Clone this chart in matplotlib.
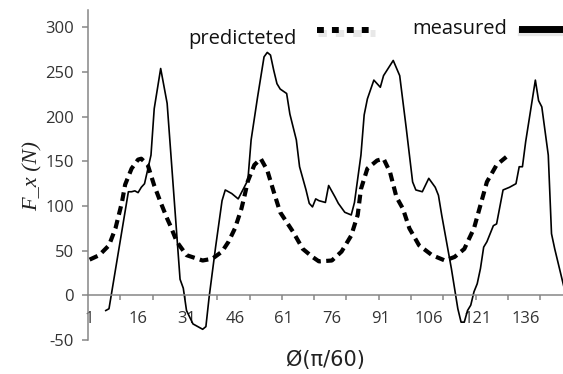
import matplotlib
matplotlib.use("Agg")
import matplotlib.pyplot as plt
from matplotlib.lines import Line2D

plt.rcParams["axes.unicode_minus"] = False

# predicted (dashed) - category index, force value
pred_x = [1, 4, 7, 9, 11, 12, 14, 16, 17, 19, 21, 23, 25, 26, 28, 31, 36, 39, 42, 44,
          46, 48, 49, 50, 52, 54, 56, 58, 60, 64, 67, 70, 72, 76, 79, 82, 84, 85, 87, 90,
          92, 94, 96, 98, 100, 103, 107, 111, 114, 117, 120, 122, 124, 127, 130]
pred_y = [40, 45, 56, 75, 104, 124, 142, 152, 153, 146, 123, 104, 86, 78, 60, 45, 39, 41, 49, 60,
          75, 97, 112, 128, 146, 153, 140, 116, 93, 71, 52, 43, 38, 39, 49, 67, 90, 119, 142, 151,
          153, 138, 110, 97, 75, 56, 45, 39, 43, 52, 75, 101, 127, 146, 155]

# measured (solid)
meas_x = [6, 7, 13, 14, 15, 16, 17, 18, 20, 21, 23, 25, 29, 30, 31, 33, 36, 37, 38, 40,
          42, 43, 45, 47, 50, 51, 53, 55, 56, 57, 58, 59, 60, 62, 63, 65, 66, 68, 69, 70,
          71, 72, 74, 75, 77, 78, 80, 82, 83, 85, 86, 87, 89, 91, 92, 95, 97, 99, 101, 102,
          104, 106, 108, 109, 110, 113, 115, 116, 117, 118, 119, 120, 121, 122, 123, 124, 126, 127, 128, 129,
          131, 133, 134, 135, 136, 139, 140, 141, 143, 144, 145, 148]
meas_y = [-17, -15, 116, 116, 117, 115, 121, 125, 157, 209, 254, 215, 18, 8, -17, -32, -38, -35, -2, 54,
          106, 118, 114, 108, 129, 174, 222, 267, 272, 269, 252, 237, 231, 226, 203, 174, 144, 118, 103, 99,
          108, 106, 104, 123, 110, 103, 93, 90, 104, 157, 202, 220, 241, 233, 246, 263, 246, 188, 127, 118,
          116, 131, 121, 112, 90, 30, -15, -30, -30, -17, -11, 4, 13, 30, 54, 60, 78, 80, 99, 118,
          121, 125, 144, 144, 172, 241, 218, 211, 157, 69, 52, 7]

xtick_labels = [1, 16, 31, 46, 61, 76, 91, 106, 121, 136]
ytick_vals = [-50, 0, 50, 100, 150, 200, 250, 300]

W, H = 563, 374
fig = plt.figure(figsize=(W / 100, H / 100), dpi=100)
ax = fig.add_axes([88 / W, 34 / H, 484.5 / W, 330 / H])

axis_col = "#868686"
ax.plot(pred_x, pred_y, color="black", lw=3.0, dashes=(2.1, 1.3), dash_capstyle="butt")
ax.plot(meas_x, meas_y, color="black", lw=1.2)

ax.set_xlim(0.5, 150.5)
ax.set_ylim(-50, 319.5)

for s in ["top", "right"]:
    ax.spines[s].set_visible(False)
ax.spines["bottom"].set_position(("data", 0))
ax.spines["left"].set_color(axis_col)
ax.spines["bottom"].set_color(axis_col)
ax.spines["left"].set_linewidth(1.1)
ax.spines["bottom"].set_linewidth(1.1)

ax.set_xticks([0.5 + 10 * i for i in range(1, 16)])
ax.set_xticklabels([])
ax.set_xticks(xtick_labels, minor=True)
ax.set_xticklabels([str(v) for v in xtick_labels], minor=True)
ax.tick_params(axis="x", which="major", direction="out", length=3.6, width=1.1, color=axis_col)
ax.tick_params(axis="x", which="minor", length=0, pad=11, labelsize=12)

ax.set_yticks(ytick_vals)
ax.set_yticklabels([str(v) for v in ytick_vals])
ax.tick_params(axis="y", direction="out", length=4.3, width=1.1, color=axis_col, pad=6, labelsize=12)
for lab in ax.get_xticklabels(minor=True) + ax.get_yticklabels():
    lab.set_family("Open Sans")
    lab.set_color("#333333")

# axis titles
fig.text(325 / W, 1 - 360 / H, "Ø(π/60)", ha="center", va="center", fontsize=15,
         family="DejaVu Sans", color="#222222")
fig.text(33 / W, 1 - 176 / H, "F_x (N)", ha="center", va="center", rotation=90,
         fontsize=16, family="Liberation Serif", style="italic", color="#222222")

# legend drawn by hand
def fpt(px, py):
    return px / W, 1 - py / H

fig.text(*fpt(188, 44), "predicteted", ha="left", va="baseline", fontsize=14.5,
         family="Open Sans", color="#111111")
fig.text(*fpt(412, 34), "measured", ha="left", va="baseline", fontsize=14.5,
         family="Open Sans", color="#111111")

(x0, y0), (x1, _) = fpt(318, 33), fpt(375, 33)
fig.add_artist(Line2D([x0, x1], [y0, y0], color="#cccccc", lw=5, alpha=0.45,
                      dashes=(1.2, 1.3), dash_capstyle="butt", transform=fig.transFigure))
(x0, y0), (x1, _) = fpt(317, 30), fpt(374, 30)
fig.add_artist(Line2D([x0, x1], [y0, y0], color="black", lw=4.3,
                      dashes=(1.15, 1.35), dash_capstyle="butt", transform=fig.transFigure))

(x0, y0), (x1, _) = fpt(522, 31.5), fpt(570, 31.5)
fig.add_artist(Line2D([x0, x1], [y0, y0], color="#cccccc", lw=6, alpha=0.45,
                      transform=fig.transFigure))
(x0, y0), (x1, _) = fpt(522, 28.5), fpt(570, 28.5)
fig.add_artist(Line2D([x0, x1], [y0, y0], color="black", lw=5, transform=fig.transFigure))

fig.savefig("out.png", dpi=100)
